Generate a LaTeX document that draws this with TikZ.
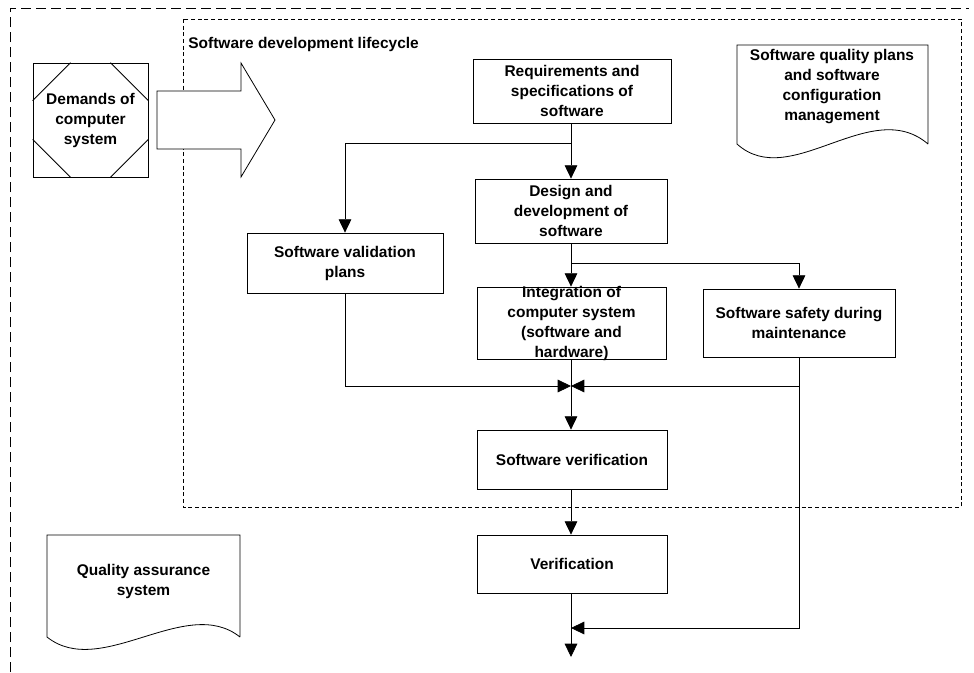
\documentclass[tikz,border=0pt]{standalone}
\usepackage{fontspec}
\setmainfont{Liberation Sans}
\usetikzlibrary{arrows.meta}
\newcommand{\boxfont}{\bfseries\fontsize{11.6}{15}\selectfont}

\begin{document}
\begin{tikzpicture}[x=0.75pt,y=-0.75pt,line width=0.6pt,>={Triangle[length=10pt,width=9.5pt]},
  box node/.style={draw,fill=white,inner sep=0pt,align=center,font=\boxfont},
  text node/.style={inner sep=0pt,align=center,font=\boxfont},
  outer frame/.style={dash pattern=on 7.5pt off 3.75pt},
  inner frame/.style={dash pattern=on 3pt off 2pt}]

  \useasboundingbox (0,0) rectangle (974,672);

  \draw[outer frame] (10,672) -- (10,8) -- (969,8);
  \draw[inner frame] (183,19) rectangle (961,507);
  \node[text node,anchor=west] (cycle) at (188,44) {Software development lifecycle};

  % demands and big arrow
  \node[box node,minimum width=86.25pt,minimum height=85.5pt] (dem) at (90.5,120) {Demands of\\computer\\system};
  \draw (dem.north west) ++(38,0) -- ++(-38,38);
  \draw (dem.north east) ++(-38,0) -- ++(38,38);
  \draw (dem.south west) ++(38,0) -- ++(-38,-38);
  \draw (dem.south east) ++(-38,0) -- ++(38,-38);
  \draw[fill=white] (157,91) -- (241,91) -- (241,63) -- (275,120) -- (241,177) -- (241,149) -- (157,149) -- cycle;

  % documents
  \draw[fill=white] (928,144) -- (928,45) -- (737,45) -- (737,144)
    .. controls (790,192) and (871,95) .. (928,144);
  \node[text node] (qplan) at (832,87) {Software quality plans\\and software\\configuration\\management};
  \draw[fill=white] (240,637) -- (240,535) -- (47,535) -- (47,637)
    .. controls (101,680) and (186,594) .. (240,637);
  \node[text node] (qsys) at (143.5,581) {Quality assurance\\system};

  % boxes
  \node[box node,minimum width=148.5pt,minimum height=48pt] (req) at (572,91) {Requirements and\\specifications of\\software};
  \node[box node,minimum width=144pt,minimum height=48pt] (design) at (571,211) {Design and\\development of\\software};
  \node[box node,minimum width=147pt,minimum height=45pt] (valid) at (345,263) {Software validation\\plans};
  \node[box node,minimum width=141.75pt,minimum height=54pt] (integ) at (571.5,323) {};
  \node[text node] (integtext) at (integ.center) {Integration of\\computer system\\(software and\\hardware)};
  \node[box node,minimum width=144pt,minimum height=51pt] (safety) at (799,323) {Software safety during\\maintenance};
  \node[box node,minimum width=142.5pt,minimum height=44.25pt] (swver) at (572,459.5) {Software verification};
  \node[box node,minimum width=142.5pt,minimum height=43.5pt] (ver) at (572,564) {Verification};

  \coordinate (split1) at (571,143);
  \coordinate (split2) at (571,263);
  \coordinate (tap) at (799,263);
  \coordinate (join) at (571,386);
  \coordinate (merge) at (571,628);
  \coordinate (outlet) at (571,657);

  \draw[->] (req.south -| split1) -- (design.north -| split1);
  \draw[->] (split1) -| (valid.north);
  \draw[->] (design.south -| split2) -- (integ.north -| split2);
  \draw[->] (split2) -- (tap) -- (tap |- safety.north);
  \draw[->] (integ.south -| join) -- (swver.north -| join);
  \draw[->] (valid.south) |- (join);
  \draw[->] (tap |- safety.south) |- (join);
  \draw[->] (swver.south -| join) -- (ver.north -| join);
  \draw[->] (tap |- safety.south) |- (merge);
  \draw[->] (ver.south -| merge) -- (outlet);
\end{tikzpicture}
\end{document}
